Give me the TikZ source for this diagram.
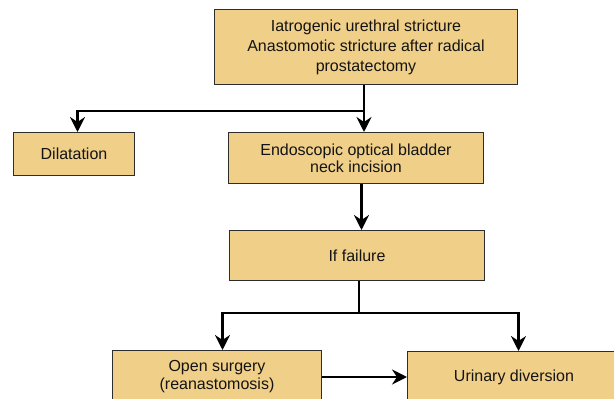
\documentclass[tikz,border=0pt]{standalone}
\usepackage{fontspec}
\setmainfont{Liberation Sans}
\usetikzlibrary{arrows.meta}
\definecolor{boxfill}{RGB}{240,207,136}
\definecolor{boxline}{RGB}{45,45,45}
\definecolor{txt}{RGB}{20,20,20}
\begin{document}
\begin{tikzpicture}[x=1pt,y=-1pt,
  box/.style={draw=boxline, line width=1pt, fill=boxfill, anchor=north west,
    inner sep=0pt, align=center, text=txt,
    font=\fontsize{16}{19}\selectfont},
  conn/.style={line width=2.8pt, black},
  arr/.style={conn, -{Stealth[length=15pt,width=15pt,inset=5pt]}}]
\useasboundingbox (0,0) rectangle (614,399);
\clip (0,0) rectangle (614,399);
\node[box, minimum width=303pt, minimum height=75pt, font=\fontsize{16}{20}\selectfont] (top) at (214,9)
  {Iatrogenic urethral stricture\\Anastomotic stricture after radical\\prostatectomy};
\node[box, minimum width=121pt, minimum height=43pt] (dil) at (13,132) {Dilatation};
\node[box, minimum width=255pt, minimum height=51pt, font=\fontsize{16}{17}\selectfont] (endo) at (228,132)
  {Endoscopic optical bladder\\neck incision};
\node[box, minimum width=255pt, minimum height=50pt] (fail) at (229,230) {If failure};
\node[box, minimum width=209pt, minimum height=52pt, font=\fontsize{16}{18}\selectfont] (open) at (112,350)
  {Open surgery\\(reanastomosis)};
\node[box, minimum width=213pt, minimum height=51pt] (urin) at (407,351) {Urinary diversion};
% junctions
\coordinate (j1) at (364,111);
\coordinate (j2) at (359,313);
\draw[conn] (top.south -| j1) -- (j1);
\draw[arr] (j1) -| ([xshift=3.5pt]dil.north);
\draw[arr] (j1) -- (j1 |- endo.north);
\draw[arr] ([xshift=5.5pt]endo.south) -- ([xshift=5.5pt]endo.south |- fail.north);
\draw[conn] (fail.south -| j2) -- (j2);
\draw[arr] (j2) -| ([xshift=5.5pt]open.north);
\draw[arr] (j2) -| ([xshift=4.5pt]urin.north);
\draw[arr] (open.east |- 0,377) -- (urin.west |- 0,377);
\end{tikzpicture}
\end{document}
